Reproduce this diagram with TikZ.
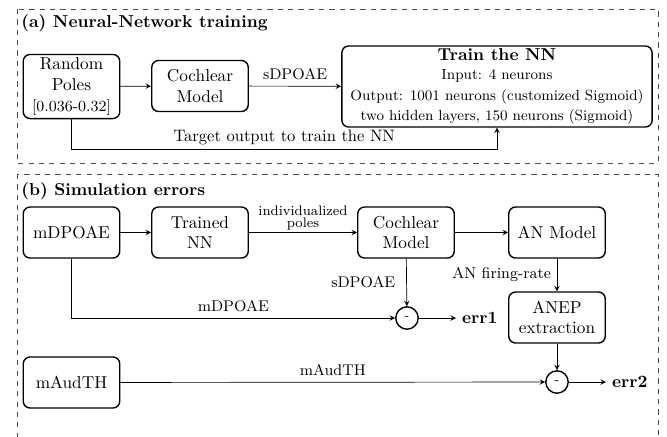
\documentclass[tikz,border=0pt]{standalone}
\usepackage{amsmath,amssymb}
\usepackage{tikz}
\usetikzlibrary{arrows}

\begin{document}
\begin{tikzpicture}[x=0.58pt, y=-0.58pt, >=stealth,
                block/.style={draw, thick, rounded corners=4pt, align=center,
                  inner sep=2pt, minimum width=56pt, minimum height=29.6pt},
                diffnode/.style={draw, thick, circle, inner sep=0pt, minimum size=13pt,
                  font=\scriptsize},
                frame/.style={draw=black!70, dashed},
                lbl/.style={font=\small},
                outlbl/.style={anchor=west, font=\bfseries}
                ]
                \clip (0,0) rectangle (667,436);
                % (a) training of the network
                \draw[frame] (17,9) rectangle (658,163);
                \node[anchor=base west, inner sep=0pt, font=\bfseries] (ta) at (21,27)
                  {(a) Neural-Network training};
                \node[block, minimum height=36.5pt] (poles) at (71.5,86.5)
                  {Random\\Poles\\{\small [0.036-0.32]}};
                \node[block] (coch1) at (200,86) {Cochlear\\Model};
                \node[block, minimum width=180pt, minimum height=47pt, inner ysep=1pt] (train)
                  at (497,86.5) {\textbf{Train the NN}\\[-1pt]
                    {\fontsize{8.5}{10.5}\selectfont Input: 4 neurons}\\
                    {\fontsize{8.5}{10.5}\selectfont Output: 1001 neurons (customized Sigmoid)}\\
                    {\fontsize{8.5}{10.5}\selectfont two hidden layers, 150 neurons (Sigmoid)}};
                \draw[->] (poles) -- (coch1);
                \draw[->] (coch1) -- node[lbl, above] {sDPOAE} (train);
                \draw[->] (poles.south) -- ++(0,30) -| node[pos=0.25, above, inner sep=2.5pt,
                  font=\fontsize{9.6}{11}\selectfont] {Target output to train the NN} (train.south);
                % (b) errors of the simulation
                \draw[frame] (17,174) rectangle (658,460);
                \node[anchor=base west, inner sep=0pt, font=\bfseries] (tb) at (21,195)
                  {(b) Simulation errors};
                \node[block] (mdp) at (71.5,232.5) {mDPOAE};
                \node[block] (tnn) at (200,232.5) {Trained\\NN};
                \node[block] (coch2) at (406,232.5) {Cochlear\\Model};
                \node[block] (anm) at (557,232.5) {AN Model};
                \node[block] (anep) at (557,317.5) {ANEP\\extraction};
                \node[block] (mth) at (71.5,382.5) {mAudTH};
                \node[diffnode] (d1) at (407,318) {-};
                \node[diffnode] (d2) at (557,382) {-};
                \node[outlbl] (err1) at (456,318) {err1};
                \node[outlbl] (err2) at (606,382) {err2};
                \draw[->] (mdp) -- (tnn);
                \draw[->] (tnn) -- node[above, align=center, font=\footnotesize, inner sep=1pt]
                  {individualized\\[-2.5pt]poles} (coch2);
                \draw[->] (coch2) -- (anm);
                \draw[->] (coch2) -- node[lbl, left, xshift=-3pt] {sDPOAE} (d1);
                \draw[->] (mdp.south) |- node[lbl, pos=0.75, above] {mDPOAE} (d1);
                \draw[->] (d1) -- (err1);
                \draw[->] (anm) -- node[lbl, left] {AN firing-rate} (anep);
                \draw[->] (anep) -- (d2);
                \draw[->] (mth) -- node[lbl, above] {mAudTH} (d2);
                \draw[->] (d2) -- (err2);
              \end{tikzpicture}
\end{document}
